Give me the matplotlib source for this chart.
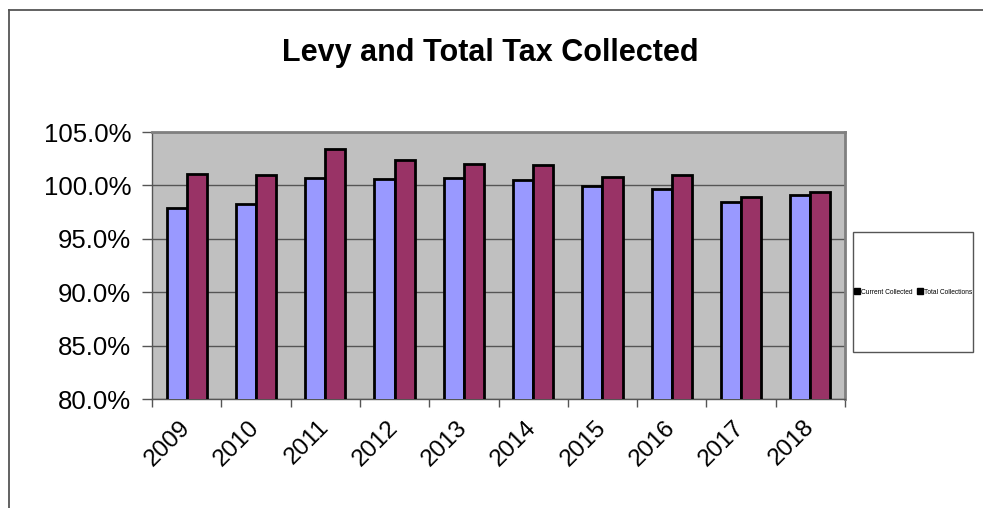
import matplotlib
matplotlib.use("Agg")
import matplotlib.pyplot as plt
from matplotlib.patches import Rectangle, Patch
from matplotlib.lines import Line2D
from matplotlib.ticker import FuncFormatter, FixedLocator
import numpy as np

years = ["2009", "2010", "2011", "2012", "2013", "2014", "2015", "2016", "2017", "2018"]
current_collected = [97.9, 98.3, 100.7, 100.6, 100.7, 100.5, 99.9, 99.7, 98.4, 99.1]
total_collections = [101.1, 101.0, 103.4, 102.4, 102.0, 101.9, 100.8, 101.0, 98.9, 99.4]
series_names = ["Current Collected", "Total Collections"]
y_ticks = [80, 85, 90, 95, 100, 105]

plt.rcParams['font.family'] = ['Liberation Sans', 'DejaVu Sans']

W, H = 983, 508
fig = plt.figure(figsize=(W / 100, H / 100), dpi=100)

# outer chart border (top and left visible)
fig.add_artist(Line2D([8.5 / W, 8.5 / W], [0, 1 - 9.5 / H], transform=fig.transFigure,
                      color="#555555", lw=1.3))
fig.add_artist(Line2D([8.5 / W, 1], [1 - 9.5 / H, 1 - 9.5 / H], transform=fig.transFigure,
                      color="#555555", lw=1.3))

left, right, top, bottom = 152, 845, 132, 399
ax = fig.add_axes([left / W, 1 - bottom / H, (right - left) / W, (bottom - top) / H])
ax.set_facecolor("#c0c0c0")

x = np.arange(len(years))
bw = 0.29
ax.bar(x - bw / 2, current_collected, bw, color="#9999ff", edgecolor="black", lw=2,
       zorder=3, label=series_names[0])
ax.bar(x + bw / 2, total_collections, bw, color="#993366", edgecolor="black", lw=2,
       zorder=3, label=series_names[1])

ax.set_ylim(80, 105)
ax.set_xlim(-0.5, len(years) - 0.5)
ax.yaxis.set_major_locator(FixedLocator(y_ticks))
ax.yaxis.set_major_formatter(FuncFormatter(lambda v, p: f"{v:.1f}%"))
ax.grid(axis="y", color="#555555", lw=1, zorder=1)

ax.set_xticks(x)
ax.set_xticklabels(years, rotation=45, ha="right", va="center", rotation_mode="anchor",
                   fontsize=17.5)
ax.xaxis.set_minor_locator(FixedLocator(np.arange(-0.5, len(years), 1.0)))
ax.tick_params(axis="x", which="major", length=0, pad=18)
ax.tick_params(axis="x", which="minor", length=6, width=1, color="#555555", direction="out")
ax.tick_params(axis="y", length=7, width=1, color="#555555", labelsize=18.5, pad=8)

for s in ["top", "right"]:
    ax.spines[s].set_color("#808080")
    ax.spines[s].set_linewidth(2)
for s in ["left", "bottom"]:
    ax.spines[s].set_color("#555555")
    ax.spines[s].set_linewidth(1)

fig.text(490 / W, 1 - 53 / H, "Levy and Total Tax Collected", ha="center", va="center",
         fontsize=22, fontweight="bold")

# legend box
lx0, lx1, ly0, ly1 = 853, 973, 232, 352
fig.add_artist(Rectangle((lx0 / W, 1 - ly1 / H), (lx1 - lx0) / W, (ly1 - ly0) / H,
                         transform=fig.transFigure, facecolor="white", edgecolor="#555555",
                         lw=1))
handles = [Patch(facecolor="black", edgecolor="black") for _ in series_names]
fig.legend(handles, series_names, loc="center", bbox_to_anchor=((lx0 + lx1) / 2 / W, 1 - 292 / H),
           ncol=2, frameon=False, fontsize=4.8, handlelength=0.9, handleheight=0.9,
           handletextpad=0.2, columnspacing=0.6, borderpad=0)

fig.savefig("out.png", dpi=100)
